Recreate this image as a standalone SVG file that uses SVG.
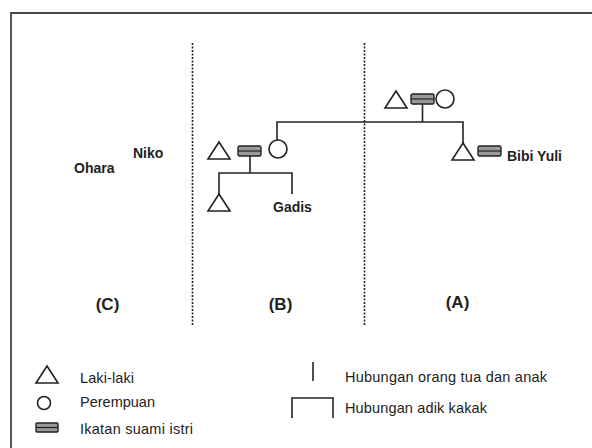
<svg xmlns="http://www.w3.org/2000/svg" width="592" height="448" viewBox="0 0 592 448">
<style>
.s{fill:none;stroke:#222;stroke-width:1.6}
.m{fill:#999;stroke:#222;stroke-width:1.4}
.d{stroke:#222;stroke-width:1.6;stroke-dasharray:2 1.5}
.b{font-family:"Liberation Sans",Arial,sans-serif;font-weight:bold;font-size:14px;fill:#222}
.t{font-family:"Liberation Sans",Arial,sans-serif;font-size:14.5px;fill:#222}
.h{font-family:"Liberation Sans",Arial,sans-serif;font-weight:bold;font-size:17px;fill:#222}
</style>
<defs>
<symbol id="tri" viewBox="0 0 22 17" overflow="visible"><polygon points="11,0 22,17 0,17" class="s"/></symbol>
<g id="mar"><rect x="0" y="0" width="23" height="10" rx="1.5" class="m"/><line x1="0" y1="5" x2="23" y2="5" stroke="#222" stroke-width="1.2"/></g>
</defs>
<rect width="592" height="448" fill="#fff"/>
<path d="M11,448 V13 H592" fill="none" stroke="#444" stroke-width="1.8"/>
<line class="d" x1="192.5" y1="43" x2="192.5" y2="325"/>
<line class="d" x1="364.5" y1="43" x2="364.5" y2="325"/>

<g id="connectors" class="s">
<path d="M422.5,104 V122 M277,140 V122 H463 V143"/>
<path d="M250,156 V173 M219,194 V173 H292 V194"/>
</g>

<g id="grandparents">
<use href="#tri" x="385" y="91" width="22" height="17"/>
<use href="#mar" transform="translate(411,94)"/>
<circle cx="445" cy="99" r="9" class="s"/>
</g>
<g id="bibi-yuli">
<use href="#tri" x="452" y="143" width="22" height="17"/>
<use href="#mar" transform="translate(478,146)"/>
<text class="b" x="507" y="161">Bibi Yuli</text>
</g>
<g id="parents-b">
<use href="#tri" x="208" y="142" width="22" height="17"/>
<use href="#mar" transform="translate(238,146)"/>
<circle cx="278" cy="149" r="9" class="s"/>
</g>
<g id="child-b">
<use href="#tri" x="208" y="194" width="22" height="17"/>
</g>
<g id="gadis"><text class="b" x="273" y="212">Gadis</text></g>
<g id="niko"><text class="b" x="133" y="158">Niko</text></g>
<g id="ohara"><text class="b" x="74" y="173">Ohara</text></g>

<text class="h" x="107.5" y="310" text-anchor="middle">(C)</text>
<text class="h" x="280.5" y="310" text-anchor="middle">(B)</text>
<text class="h" x="457.5" y="308" text-anchor="middle">(A)</text>

<g id="legend">
<polygon points="47,366 58,383 36,383" class="s"/>
<text class="t" x="80" y="383" textLength="54">Laki-laki</text>
<circle cx="44" cy="403" r="6.5" class="s"/>
<text class="t" x="80" y="407">Perempuan</text>
<rect x="36" y="423" width="22" height="9" rx="1" class="m"/>
<line x1="36" y1="427.5" x2="58" y2="427.5" stroke="#222" stroke-width="1.2"/>
<text class="t" x="80" y="434" textLength="113">Ikatan suami istri</text>
<line x1="313" y1="362" x2="313" y2="381" class="s"/>
<text class="t" x="345" y="382" textLength="202">Hubungan orang tua dan anak</text>
<path d="M292,418 V398 H333 V418" class="s"/>
<text class="t" x="345" y="413" textLength="142">Hubungan adik kakak</text>
</g>
</svg>
